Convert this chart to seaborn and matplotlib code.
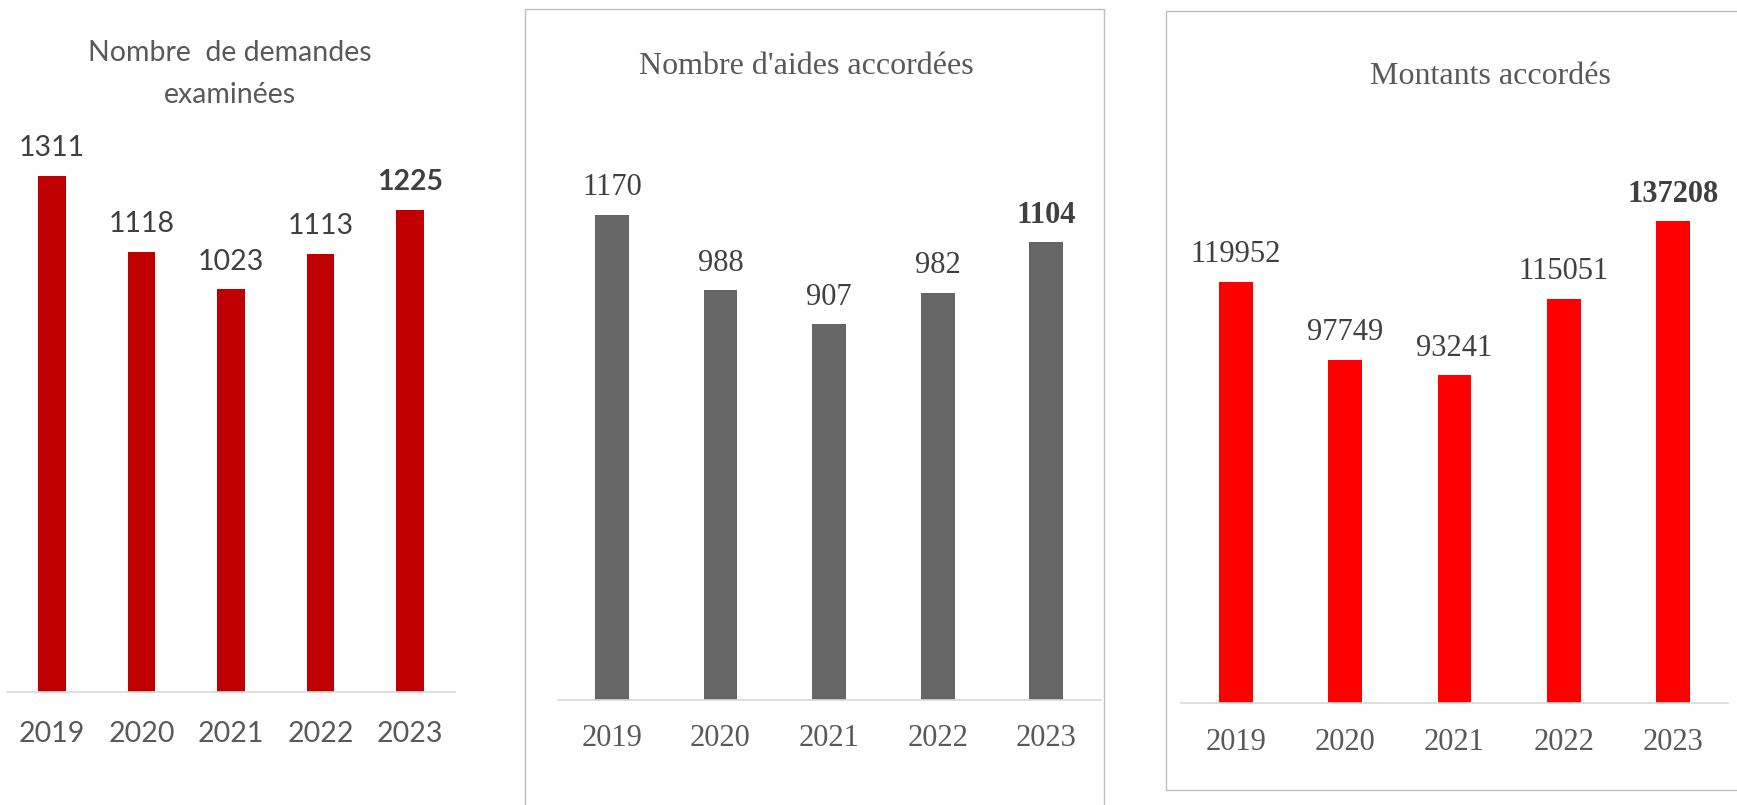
import matplotlib
matplotlib.use("Agg")
import matplotlib.pyplot as plt
import seaborn as sns

# Data
YEARS = ["2019", "2020", "2021", "2022", "2023"]
DEMANDES = [1311, 1118, 1023, 1113, 1225]
AIDES = [1170, 988, 907, 982, 1104]
MONTANTS = [119952, 97749, 93241, 115051, 137208]

TITLE_DEMANDES = ["Nombre  de demandes", "examinées"]
TITLE_AIDES = "Nombre d'aides accordées"
TITLE_MONTANTS = "Montants accordés"

W, H = 1737, 805
sns.set_theme(style="white")

fig = plt.figure(figsize=(W / 100, H / 100), dpi=100)
fig.patch.set_facecolor("white")


def px_axes(left, right, bottom, top):
    """Add an axes given pixel edges (y measured from top of the image)."""
    return fig.add_axes([left / W, (H - bottom) / H, (right - left) / W, (bottom - top) / H])


def px_rect(x0, y0, x1, y1):
    rect = plt.Rectangle((x0 / W, (H - y1) / H), (x1 - x0) / W, (y1 - y0) / H,
                         transform=fig.transFigure, fill=False,
                         edgecolor="#BFBFBF", linewidth=1.0)
    fig.add_artist(rect)


def draw_panel(ax, values, color, ymax, font, size, tick_pad):
    sns.barplot(x=YEARS, y=values, color=color, saturation=1, width=0.31,
                linewidth=0, edgecolor=color, ax=ax)
    ax.set_xlim(-0.5, 4.5)
    ax.set_ylim(0, ymax)
    for s in ["left", "right", "top"]:
        ax.spines[s].set_visible(False)
    ax.spines["bottom"].set_color("#D9D9D9")
    ax.spines["bottom"].set_linewidth(1.2)
    ax.set_yticks([])
    ax.set_xlabel("")
    ax.set_ylabel("")
    ax.set_facecolor("none")
    ax.tick_params(axis="x", length=0, pad=tick_pad, labelsize=size, labelcolor="#595959")
    for lab in ax.get_xticklabels():
        lab.set_fontfamily(font)
    for i, v in enumerate(values):
        last = i == len(values) - 1
        ax.annotate(str(v), xy=(i, v), xytext=(0, 14), textcoords="offset points",
                    ha="center", va="baseline", fontsize=size, family=font,
                    fontweight="bold" if last else "normal", color="#404040")


# Panel 1 - Calibri-like sans serif, dark red
ax1 = px_axes(7, 455, 692, 120)
draw_panel(ax1, DEMANDES, "#C00000", 1453, "Lato", 20.5, 21)
fig.text(230 / W, 1 - 53 / H, TITLE_DEMANDES[0], ha="center", va="center",
         fontsize=20.5, family="Lato", color="#595959")
fig.text(230 / W, 1 - 95 / H, TITLE_DEMANDES[1], ha="center", va="center",
         fontsize=20.5, family="Lato", color="#595959")

# Panel 2 - Times-like serif, grey, framed
px_rect(525, 9, 1104, 820)
ax2 = px_axes(557.5, 1100.6, 700, 120)
draw_panel(ax2, AIDES, "#666666", 1399, "Liberation Serif", 22, 17)
fig.text(806 / W, 1 - 66 / H, TITLE_AIDES, ha="center", va="center",
         fontsize=23, family="Liberation Serif", color="#595959")

# Panel 3 - Times-like serif, bright red, framed
px_rect(1166, 11, 1760, 790)
ax3 = px_axes(1181, 1728, 703, 120)
draw_panel(ax3, MONTANTS, "#FF0000", 165960, "Liberation Serif", 22, 18)
fig.text(1490 / W, 1 - 76 / H, TITLE_MONTANTS, ha="center", va="center",
         fontsize=23, family="Liberation Serif", color="#595959")

fig.savefig("out.png", dpi=100, facecolor="white")
